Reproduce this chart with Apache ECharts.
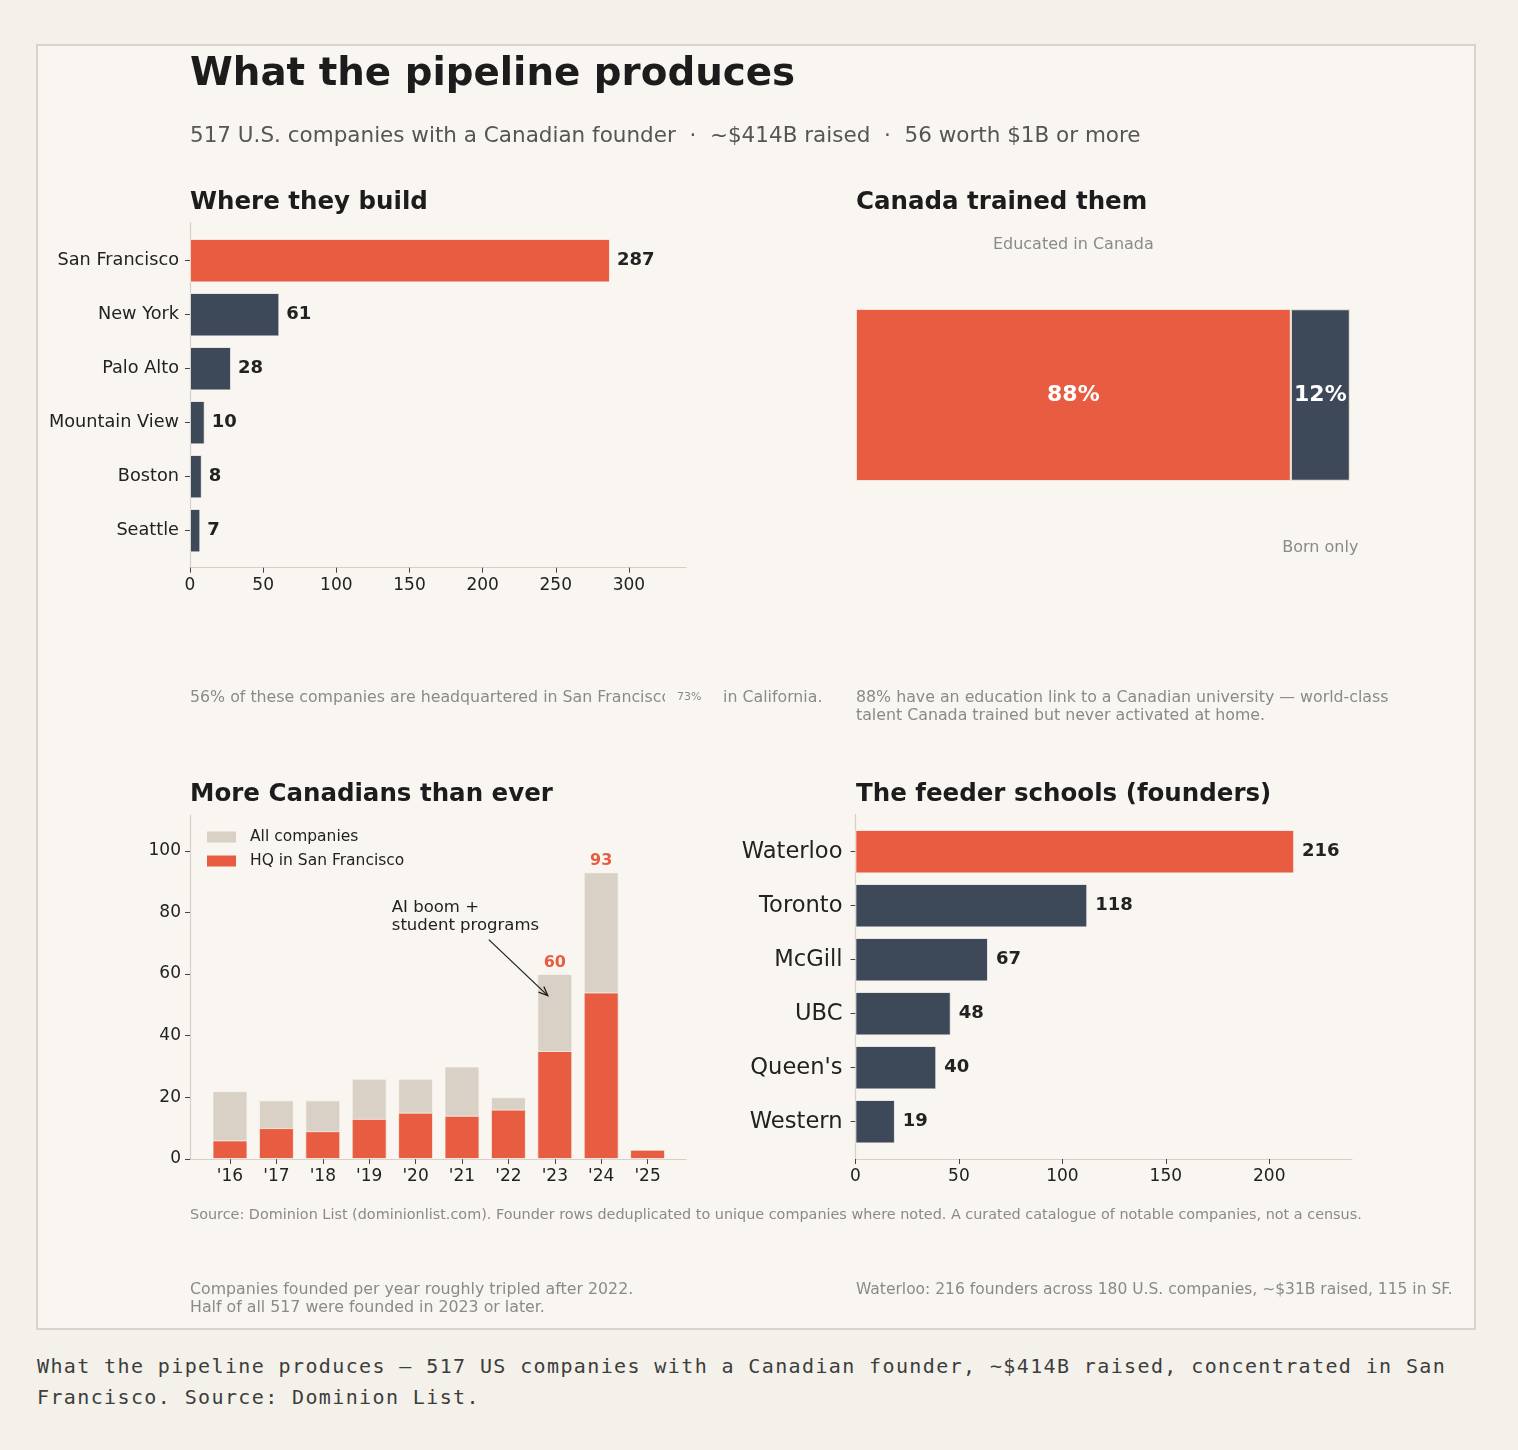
<!DOCTYPE html>
<html>
<head>
<meta charset="utf-8">
<title>What the pipeline produces</title>
<script src="https://cdn.jsdelivr.net/npm/echarts@6/dist/echarts.min.js"></script>
<style>
  body { margin: 0; background: #f4f1ea; }
  #card {
    position: absolute; left: 36px; top: 44px; width: 1440px; height: 1286px;
    box-sizing: border-box; background: #f9f6f1; border: 2px solid #d9d4cb;
  }
  #chart { position: absolute; left: 0; top: 0; width: 1518px; height: 1340px; }
  #caption {
    position: absolute; left: 37px; top: 1351px; width: 1470px;
    font-family: 'DejaVu Sans Mono', monospace; font-size: 20px; letter-spacing: 1.38px;
    line-height: 31px; color: #3d3d3d;
  }
</style>
</head>
<body>
<div id="card"></div>
<div id="chart"></div>
<div id="caption">What the pipeline produces — 517 US companies with a Canadian founder, ~$414B raised, concentrated in San<br>Francisco. Source: Dominion List.</div>
<script>
// données
const cities = ['San Francisco', 'New York', 'Palo Alto', 'Mountain View', 'Boston', 'Seattle'];
const cityCounts = [287, 61, 28, 10, 8, 7];
const cityTicks = [0, 50, 100, 150, 200, 250, 300];

const shareLabels = ['Educated in Canada', 'Born only'];
const shareValues = [88, 12];

const years = ["'16", "'17", "'18", "'19", "'20", "'21", "'22", "'23", "'24", "'25"];
const allCompanies = [22, 19, 19, 26, 26, 30, 20, 60, 93, 3];
const sfCompanies = [6, 10, 9, 13, 15, 14, 16, 35, 54, 3];
const labelledYears = ["'23", "'24"];
const yearTicks = [0, 20, 40, 60, 80, 100];

const schools = ['Waterloo', 'Toronto', 'McGill', 'UBC', "Queen's", 'Western'];
const schoolBars = [212, 112, 64, 46, 39, 19];
const schoolFounders = [216, 118, 67, 48, 40, 19];
const schoolTicks = [0, 50, 100, 150, 200];

const RED = '#e85d41';
const NAVY = '#3d4959';
const BEIGE = '#d9d1c5';
const AXIS = '#d5cfc5';
const TICK = '#444';
const INK = '#222';
const GRAY = '#8a8a8a';
const CARD = '#f9f6f1';
const FONT = 'DejaVu Sans';
const EDGE = { borderColor: CARD, borderWidth: 0.8 };

// axe "cadre" : seulement les lignes d'axe (marges à la matplotlib)
const frameAxis = (gridIndex, extra) => Object.assign({
    type: 'value', gridIndex, min: 0, max: 1,
    axisLine: { show: true, onZero: false, lineStyle: { color: AXIS, width: 1.2 } },
    axisTick: { show: false }, axisLabel: { show: false }, splitLine: { show: false }
}, extra);

const tickAxis = (gridIndex, max, ticks) => frameAxis(gridIndex, {
    max,
    axisTick: { show: true, customValues: ticks, length: 5, lineStyle: { color: TICK } },
    axisLabel: { show: true, customValues: ticks, fontSize: 17, color: INK, margin: 9, fontFamily: FONT }
});

const hiddenValue = (gridIndex, max) => ({ type: 'value', gridIndex, min: 0, max, show: false });

const catAxis = (gridIndex, data, fontSize, margin, inverse) => ({
    type: 'category', gridIndex, data, inverse,
    axisLine: { show: false },
    axisTick: { show: true, alignWithLabel: true, length: 5, lineStyle: { color: TICK } },
    axisLabel: { fontSize, color: INK, margin, fontFamily: FONT }
});

const option = {
    animation: false,
    textStyle: { fontFamily: FONT },
    grid: [
        { left: 190, top: 222.7, width: 496, height: 345 },     // 0 cadre villes
        { left: 190, top: 233.7, width: 496, height: 324 },     // 1 villes
        { left: 856, top: 309, width: 494, height: 172 },       // 2 part éduqués
        { left: 190, top: 815, width: 496, height: 344 },       // 3 cadre années
        { left: 206.8, top: 815, width: 464, height: 344 },     // 4 années
        { left: 855.5, top: 814.4, width: 496.5, height: 344.6 }, // 5 cadre écoles
        { left: 855.5, top: 824.7, width: 496.5, height: 324 }  // 6 écoles
    ],
    xAxis: [
        tickAxis(0, 339, cityTicks),
        hiddenValue(1, 339),
        hiddenValue(2, 100),
        frameAxis(3),
        Object.assign(catAxis(4, years, 17, 9, false), { position: 'bottom' }),
        tickAxis(5, 240, schoolTicks),
        hiddenValue(6, 240)
    ],
    yAxis: [
        frameAxis(0),
        catAxis(1, cities, 17.7, 11, true),
        { type: 'category', gridIndex: 2, data: ['share'], show: false },
        tickAxis(3, 111.6, yearTicks),
        hiddenValue(4, 111.6),
        frameAxis(5),
        catAxis(6, schools, 22.6, 13, true)
    ],
    legend: {
        data: ['All companies', 'HQ in San Francisco'],
        orient: 'vertical', left: 205, top: 829, padding: 0,
        itemWidth: 31, itemHeight: 13, itemGap: 8, icon: 'rect',
        textStyle: { fontSize: 15.5, color: INK, lineHeight: 16, padding: [0, 0, 0, 8] }
    },
    series: [
        {
            type: 'bar', xAxisIndex: 1, yAxisIndex: 1, data: cityCounts, barCategoryGap: '20%',
            itemStyle: Object.assign({ color: p => p.dataIndex === 0 ? RED : NAVY }, EDGE),
            label: { show: true, position: 'right', distance: 7, fontSize: 18, fontWeight: 'bold', color: INK }
        },
        {
            type: 'bar', name: shareLabels[0], xAxisIndex: 2, yAxisIndex: 2, stack: 'share',
            data: [shareValues[0]], barWidth: '100%', itemStyle: Object.assign({ color: RED }, EDGE),
            label: { show: true, position: 'inside', formatter: '{c}%', fontSize: 22, fontWeight: 'bold', color: '#fff' }
        },
        {
            type: 'bar', name: shareLabels[1], xAxisIndex: 2, yAxisIndex: 2, stack: 'share',
            data: [shareValues[1]], barWidth: '100%',
            itemStyle: { color: NAVY, borderColor: '#e6dfd5', borderWidth: 1.2 },
            label: { show: true, position: 'inside', formatter: '{c}%', fontSize: 22, fontWeight: 'bold', color: '#fff' }
        },
        {
            type: 'bar', name: 'All companies', xAxisIndex: 4, yAxisIndex: 4, data: allCompanies,
            barWidth: '75%', barGap: '-100%', itemStyle: Object.assign({ color: BEIGE }, EDGE),
            label: {
                show: true, position: 'top', distance: 3, fontSize: 16, fontWeight: 'bold', color: RED,
                formatter: p => labelledYears.includes(p.name) ? String(p.value) : ''
            }
        },
        {
            type: 'bar', name: 'HQ in San Francisco', xAxisIndex: 4, yAxisIndex: 4, data: sfCompanies,
            barWidth: '75%', barGap: '-100%', itemStyle: Object.assign({ color: RED }, EDGE)
        },
        {
            type: 'bar', xAxisIndex: 6, yAxisIndex: 6, data: schoolBars, barCategoryGap: '20%',
            itemStyle: Object.assign({ color: p => p.dataIndex === 0 ? RED : NAVY }, EDGE),
            label: {
                show: true, position: 'right', distance: 8, fontSize: 18, fontWeight: 'bold', color: INK,
                formatter: p => String(schoolFounders[p.dataIndex])
            }
        }
    ]
};

const chart = echarts.init(document.getElementById('chart'), null, { renderer: 'canvas' });
chart.setOption(option);

const txt = (x, y, text, size, extra) => ({
    type: 'text', x, y, z: 100, silent: true,
    style: Object.assign({
        text, fontSize: size, fontFamily: FONT, fill: INK, align: 'left', verticalAlign: 'middle'
    }, extra || {})
});

// annotations placées à partir des échelles
const tip = chart.convertToPixel({ gridIndex: 4 }, ["'23", 53]);
tip[0] -= 7;
const tail = [tip[0] - 59, tip[1] - 56];
const ang = Math.atan2(tip[1] - tail[1], tip[0] - tail[0]);
const head = (da) => [tip[0] - 10 * Math.cos(ang + da), tip[1] - 10 * Math.sin(ang + da)];

const eduCenter = chart.convertToPixel({ gridIndex: 2 }, [shareValues[0] / 2, 'share']);
const bornCenter = chart.convertToPixel({ gridIndex: 2 }, [shareValues[0] + shareValues[1] / 2, 'share']);

chart.setOption({
    graphic: { elements: [
        txt(190, 75, 'What the pipeline produces', 38.8, { fontWeight: 'bold', fill: '#1c1c1c' }),
        txt(190, 136, '517 U.S. companies with a Canadian founder  \u00b7  ~$414B raised  \u00b7  56 worth $1B or more', 21.5, { fill: '#555' }),
        txt(190, 203, 'Where they build', 24.5, { fontWeight: 'bold', fill: '#1c1c1c' }),
        txt(856, 203, 'Canada trained them', 24.5, { fontWeight: 'bold', fill: '#1c1c1c' }),
        txt(190, 795, 'More Canadians than ever', 24.5, { fontWeight: 'bold', fill: '#1c1c1c' }),
        txt(856, 795, 'The feeder schools (founders)', 24.5, { fontWeight: 'bold', fill: '#1c1c1c' }),

        txt(eduCenter[0], eduCenter[1] - 150, shareLabels[0], 16, { fill: GRAY, align: 'center' }),
        txt(bornCenter[0], bornCenter[1] + 153, shareLabels[1], 16, { fill: GRAY, align: 'center' }),

        txt(190, 698, '56% of these companies are headquartered in San Francisco', 15.8, { fill: GRAY }),
        txt(665, 697, '73%', 11, { fill: GRAY, backgroundColor: CARD, padding: [5, 8, 5, 12] }),
        txt(723, 698, 'in California.', 15.8, { fill: GRAY }),
        txt(856, 707, '88% have an education link to a Canadian university \u2014 world-class\ntalent Canada trained but never activated at home.', 15.8, { fill: GRAY, lineHeight: 18 }),

        txt(tip[0] - 156, tip[1] - 79, 'AI boom +\nstudent programs', 16.5, { fill: INK, lineHeight: 18 }),
        { type: 'line', z: 100, silent: true, shape: { x1: tail[0], y1: tail[1], x2: tip[0], y2: tip[1] },
          style: { stroke: '#222', lineWidth: 1.3 } },
        { type: 'polyline', z: 100, silent: true, shape: { points: [head(0.4), tip, head(-0.4)] },
          style: { stroke: '#222', lineWidth: 1.3, fill: null } },

        txt(190, 1215, 'Source: Dominion List (dominionlist.com). Founder rows deduplicated to unique companies where noted. A curated catalogue of notable companies, not a census.', 14.4, { fill: GRAY }),
        txt(190, 1299, 'Companies founded per year roughly tripled after 2022.\nHalf of all 517 were founded in 2023 or later.', 15.8, { fill: GRAY, lineHeight: 18.5 }),
        txt(856, 1290, 'Waterloo: 216 founders across 180 U.S. companies, ~$31B raised, 115 in SF.', 15.5, { fill: GRAY })
    ] }
});
</script>
</body>
</html>
